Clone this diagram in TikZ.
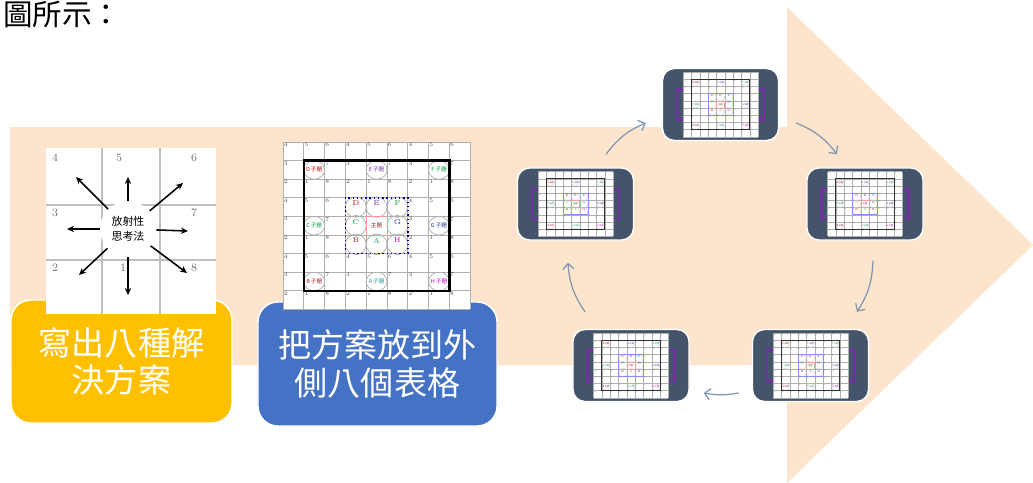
\documentclass[tikz,border=0pt]{standalone}
\usepackage{fontspec}
\newfontfamily\cjk{Noto Sans CJK TC}
\usetikzlibrary{arrows.meta,calc}

\definecolor{peach}{RGB}{252,229,204}
\definecolor{gold}{RGB}{255,192,0}
\definecolor{cardblue}{RGB}{68,114,196}
\definecolor{slate}{RGB}{68,84,106}
\definecolor{flowgray}{RGB}{132,151,176}
\definecolor{bracketpurple}{RGB}{112,48,160}
\definecolor{gridgray}{RGB}{175,175,175}
\definecolor{subred}{RGB}{192,0,0}
\definecolor{subpurple}{RGB}{112,48,160}
\definecolor{subgreen}{RGB}{0,150,60}
\definecolor{subnavy}{RGB}{32,56,140}
\definecolor{submaroon}{RGB}{150,30,40}
\definecolor{subteal}{RGB}{40,150,150}
\definecolor{submagenta}{RGB}{200,0,200}

\tikzset{
  gridline/.style={draw=gridgray, line width=0.5pt},
  outerbox/.style={draw=black, line width=1.6pt},
  innerbox/.style={draw=blue!75!black, dotted, line width=1pt},
  cellnum/.style={font=\fontsize{4}{4}\selectfont, text=black!70, anchor=north west, inner sep=0.4pt},
  sublabel/.style={font=\cjk\fontsize{4}{4}\selectfont, inner sep=0pt},
  centerlabel/.style={font=\fontsize{5}{5}\selectfont, inner sep=0pt},
  ring/.style={draw=gridgray, line width=0.5pt},
  mainbox/.style={draw=red!40, line width=0.4pt},
  card/.style={rectangle, rounded corners=0.5cm, draw=white, line width=1pt, text=white,
    align=center, inner sep=0pt, font=\cjk\fontsize{23.5}{26.5}\selectfont},
  radgrid/.style={draw=black!25, line width=1pt},
  radnum/.style={font=\fontsize{8}{8}\selectfont, text=black!55, inner sep=0pt},
  radarrow/.style={draw=black, line width=1.1pt, -{Stealth[length=5pt,width=4.5pt]}},
  device/.style={rectangle, rounded corners=0.3cm, fill=slate, draw=white, line width=1pt,
    minimum width=2.9cm, minimum height=1.8cm, inner sep=0pt},
  bracket/.style={draw=bracketpurple, line width=2pt},
  flow/.style={draw=flowgray, line width=0.9pt, -{Straight Barb[length=4pt,width=8pt]}},
  mandala/.pic={
    % white sheet and 9x9 cells
    \fill[white] (0,0) rectangle (9,9);
    \foreach \k in {0,...,9} {
      \draw[gridline] (\k,0) -- (\k,9);
      \draw[gridline] (0,\k) -- (9,\k);
    }
    % small numbers in the corner of each cell
    \foreach \i in {0,...,8} {
      \foreach \j in {0,...,8} {
        \pgfmathtruncatemacro\cellnum{{4,5,6,3,0,7,2,1,8}[3*mod(\j,3)+mod(\i,3)]}
        \pgfmathtruncatemacro\incenter{and(and(\i>2,\i<6),and(\j>2,\j<6))}
        \ifnum\cellnum>0 \ifnum\incenter=0
          \node[cellnum] (-c\i\j) at (\i,\j) {\cellnum};
        \fi\fi
      }
    }
    % sub themes in the outer blocks
    \foreach \cx/\cy/\lt/\col in {1/1/D/subred, 4/1/E/subpurple, 7/1/F/subgreen,
        1/4/C/subgreen, 7/4/G/subnavy, 1/7/B/submaroon, 4/7/A/subteal, 7/7/H/submagenta} {
      \draw[ring] (\cx+0.5,\cy+0.5) ellipse [x radius=0.5, y radius=0.5];
      \node[sublabel, text=\col] (-s\lt) at (\cx+0.5,\cy+0.5) {\lt\,子題};
    }
    % letters round the main theme
    \foreach \cx/\cy/\lt/\col in {3/3/D/subred, 4/3/E/subpurple, 5/3/F/subgreen,
        3/4/C/subgreen, 5/4/G/subnavy, 3/5/B/submaroon, 4/5/A/subteal, 5/5/H/submagenta} {
      \draw[ring] (\cx+0.5,\cy+0.5) ellipse [x radius=0.5, y radius=0.55];
      \node[centerlabel, text=\col] (-l\lt) at (\cx+0.5,\cy+0.3) {\lt};
    }
    \draw[mainbox] (4,4) rectangle (5,5);
    \node[sublabel, text=submaroon] (-main) at (4.5,4.5) {主題};
    \draw[outerbox] (1,1) rectangle (8,8);
    \draw[innerbox] (3,3) rectangle (6,6);
  }
}

\begin{document}
\begin{tikzpicture}[x=0.025cm,y=-0.025cm]
    \useasboundingbox (0,0) rectangle (1033,482);
    \clip (0,0) rectangle (1033,482);

    % Big background arrow
    \fill[peach] (10,127) -- (787,127) -- (787,7) -- (1033,245) -- (787,483)
        -- (787,365) -- (10,365) -- cycle;

    % Caption text at the top
    \node[anchor=west, inner sep=0pt, font=\cjk\fontsize{21}{21}\selectfont] (caption) at (3,14) {圖所示：};

    % The two step cards
    \node[card, fill=gold, minimum width=5.525cm, minimum height=3.075cm] (writecard) at (121.5,361.5) {寫出八種解\\決方案};
    \node[card, fill=cardblue, minimum width=5.975cm, minimum height=3.1cm] (placecard) at (377.5,364) {把方案放到外\\側八個表格};

    % Radial thinking sheet
    \fill[white] (46,148) rectangle (216,314);
    \draw[radgrid] (102,148) -- (102,314) (160,148) -- (160,314)
        (46,205) -- (216,205) (46,260) -- (216,260);
    \foreach \n/\nx/\ny in {4/55/158, 5/119/158, 6/194/158, 3/55/213, 7/194/213,
        2/55/268, 1/123/268, 8/194/268}
      \node[radnum] (r\n) at (\nx,\ny) {\n};
    \node[circle, fill=white, minimum size=1.4cm, inner sep=0pt, align=center,
        font=\cjk\fontsize{7.8}{11}\selectfont] (radc) at (128,229) {放射性\\思考法};
    \foreach \tx/\ty [count=\k] in {128/177, 76/177, 183/183, 67/229, 188/231,
        79/275, 128/295, 187/273} {
      \coordinate (rt\k) at (\tx,\ty);
      \draw[radarrow] (radc) -- (rt\k);
    }

    % Nine by nine chart
    \pic[xscale=20.8, yscale=18.6] (big) at (283,142) {mandala};

    % Five screens with small charts
    \begin{scope}[gridline/.style={draw=gridgray, line width=0.2pt},
        outerbox/.style={draw=black!80, line width=0.7pt},
        innerbox/.style={draw=blue!45, line width=0.6pt},
        ring/.style={draw=gridgray!70, line width=0.2pt},
        cellnum/.style={font=\fontsize{1.6}{2}\selectfont, text=black!50, anchor=north west, inner sep=0.2pt},
        sublabel/.style={font=\cjk\fontsize{1.6}{2}\selectfont, inner sep=0pt},
        centerlabel/.style={font=\fontsize{2}{2}\selectfont, inner sep=0pt}]
      \foreach \dev/\dx/\dy in {dt/720.5/104.5, dl/575.5/204, dr/865/204,
          dbr/810.5/365.5, dbl/631/365.5} {
        \node[device] (\dev) at (\dx,\dy) {};
        \pic[xscale=8.33, yscale=7.2] (\dev m) at ($(\dev.center)+(-37.5,-32.5)$) {mandala};
        \draw[bracket] ($(\dev.center)+(-38,-15)$) -- ++(-5.5,0) -- ++(0,30) -- ++(5.5,0);
        \draw[bracket] ($(\dev.center)+(38,-15)$) -- ++(5.5,0) -- ++(0,30) -- ++(-5.5,0);
      }
    \end{scope}

    % Cycle arrows between the screens
    \draw[flow] ([shift={(30.5,-13)}]dl.north) to[bend left=15] ([shift={(-16,18.5)}]dt.west);
    \draw[flow] ([shift={(17,18.5)}]dt.east) to[bend left=15] ([shift={(-28,-13)}]dr.north);
    \draw[flow] ([shift={(8,20)}]dr.south) to[bend left=15] ([shift={(46.5,-17)}]dbr.north);
    \draw[flow] ([shift={(-13,27.5)}]dbr.west) to[bend left=10] ([shift={(14,27.5)}]dbl.east);
    \draw[flow] ([shift={(-46,-17)}]dbl.north) to[bend left=15] ([shift={(-7.5,22)}]dl.south);
\end{tikzpicture}
\end{document}
